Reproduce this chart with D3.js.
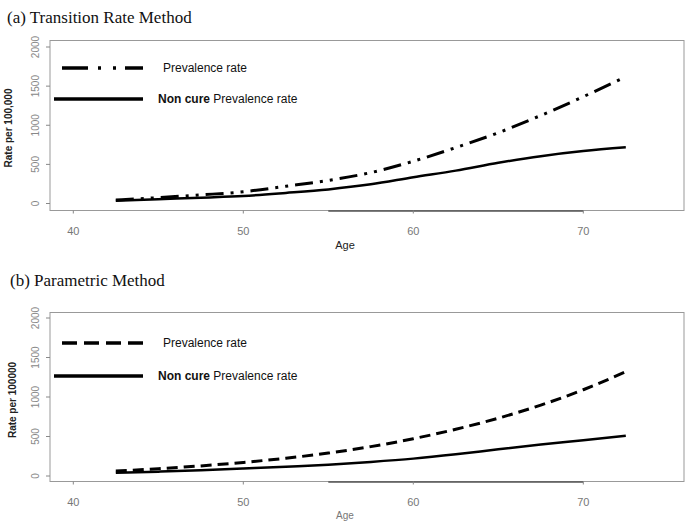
<!DOCTYPE html>
<html>
<head>
<meta charset="utf-8">
<script src="https://cdn.jsdelivr.net/npm/d3@7"></script>
<style>
  body { margin: 0; background: #fff; }
  svg { display: block; }
</style>
</head>
<body>
<svg id="chart" width="685" height="523"></svg>
<script>
const ages = [42.5, 45, 47.5, 50, 52.5, 55, 57.5, 60, 62.5, 65, 67.5, 70, 72.5];

// (a) transition rate method
const prevA    = [45, 75, 110, 150, 220, 295, 395, 540, 715, 905, 1125, 1365, 1620];
const nonCureA = [35, 55, 75, 96, 135, 180, 245, 335, 420, 520, 605, 670, 718];

// (b) parametric method
const prevB    = [63, 92, 128, 172, 225, 290, 372, 472, 592, 732, 897, 1092, 1320];
const nonCureB = [40, 55, 73, 95, 118, 143, 178, 220, 275, 338, 398, 452, 508];

const xTicks = [40, 50, 60, 70];
const yTicks = [0, 500, 1000, 1500, 2000];

const svg = d3.select('#chart');

function drawPanel(p) {
  const x = d3.scaleLinear().domain([40, 70]).range([73.3, 583.3]);
  const y = d3.scaleLinear().domain([0, 2000]).range([p.y0, p.y2000]);
  const g = svg.append('g');

  // title
  g.append('text')
    .attr('x', p.titleX).attr('y', p.titleY)
    .attr('font-family', '"Liberation Serif", "Times New Roman", serif')
    .attr('font-size', '17px')
    .attr('fill', '#111')
    .text(p.title);

  // plot box
  g.append('rect')
    .attr('x', 50).attr('y', p.top)
    .attr('width', 634).attr('height', p.bottom - p.top)
    .attr('fill', 'none').attr('stroke', '#999').attr('stroke-width', 1);

  // darker axis piece along the bottom
  g.append('line')
    .attr('x1', x(55)).attr('x2', x(70))
    .attr('y1', p.bottom + 0.5).attr('y2', p.bottom + 0.5)
    .attr('stroke', '#555').attr('stroke-width', 1.5);

  // x ticks
  const xa = g.selectAll('g.xt').data(xTicks).enter().append('g').attr('class', 'xt');
  xa.append('line')
    .attr('x1', d => x(d)).attr('x2', d => x(d))
    .attr('y1', p.bottom).attr('y2', p.bottom + 3)
    .attr('stroke', '#888');
  xa.append('text')
    .attr('x', d => x(d)).attr('y', p.bottom + 24)
    .attr('text-anchor', 'middle')
    .attr('font-family', '"Liberation Sans", Arial, sans-serif')
    .attr('font-size', '11px').attr('fill', '#777')
    .text(d => d);

  // y ticks
  const ya = g.selectAll('g.yt').data(yTicks).enter().append('g').attr('class', 'yt');
  ya.append('line')
    .attr('x1', 46).attr('x2', 50)
    .attr('y1', d => y(d)).attr('y2', d => y(d))
    .attr('stroke', '#888');
  ya.append('text')
    .attr('transform', d => `translate(39,${y(d)})rotate(-90)`)
    .attr('text-anchor', 'middle')
    .attr('font-family', '"Liberation Sans", Arial, sans-serif')
    .attr('font-size', '10px').attr('fill', '#888')
    .text(d => d);

  // axis titles
  g.append('text')
    .attr('x', 345).attr('y', p.ageY)
    .attr('text-anchor', 'middle')
    .attr('font-family', '"Liberation Sans", Arial, sans-serif')
    .attr('font-size', p.ageSize).attr('fill', p.ageColor)
    .text('Age');
  g.append('text')
    .attr('transform', `translate(${p.ylabX},${p.ylabY})rotate(-90)`)
    .attr('text-anchor', 'middle')
    .attr('font-family', '"Liberation Sans", Arial, sans-serif')
    .attr('font-size', '10px').attr('font-weight', 'bold').attr('fill', '#222')
    .text(p.ylab);

  // curves
  const line = d3.line().x(d => x(d[0])).y(d => y(d[1])).curve(d3.curveMonotoneX);
  g.append('path')
    .datum(d3.zip(ages, p.prev))
    .attr('d', line)
    .attr('fill', 'none').attr('stroke', '#000').attr('stroke-width', 3)
    .attr('stroke-dasharray', p.dashCurve);
  g.append('path')
    .datum(d3.zip(ages, p.nonCure))
    .attr('d', line)
    .attr('fill', 'none').attr('stroke', '#000').attr('stroke-width', 2.5);

  // legend
  g.append('line')
    .attr('x1', 62).attr('x2', 143)
    .attr('y1', p.leg1Y).attr('y2', p.leg1Y)
    .attr('stroke', '#000').attr('stroke-width', 3.5)
    .attr('stroke-dasharray', p.dashLegend);
  g.append('text')
    .attr('x', 163).attr('y', p.leg1Y + 4)
    .attr('font-family', '"Liberation Sans", Arial, sans-serif')
    .attr('font-size', '12px').attr('fill', '#111')
    .text('Prevalence rate');
  g.append('line')
    .attr('x1', 54).attr('x2', 143)
    .attr('y1', p.leg2Y).attr('y2', p.leg2Y)
    .attr('stroke', '#000').attr('stroke-width', 3.5);
  const t2 = g.append('text')
    .attr('x', 158).attr('y', p.leg2Y + 4)
    .attr('font-family', '"Liberation Sans", Arial, sans-serif')
    .attr('font-size', '12px').attr('fill', '#111');
  t2.append('tspan').attr('font-weight', 'bold').text('Non cure');
  t2.append('tspan').text(' Prevalence rate');
}

drawPanel({
  title: '(a) Transition Rate Method', titleX: 7, titleY: 23,
  top: 40.5, bottom: 210.5, y0: 203.5, y2000: 47,
  ageY: 249, ageSize: '11px', ageColor: '#222',
  ylab: 'Rate per 100,000', ylabX: 12, ylabY: 128,
  prev: prevA, nonCure: nonCureA,
  dashCurve: '18,7,3,7,3,7', dashLegend: '26,10,3,12,3,9',
  leg1Y: 68, leg2Y: 99
});

drawPanel({
  title: '(b) Parametric Method', titleX: 10, titleY: 286,
  top: 312.5, bottom: 481.5, y0: 476, y2000: 318,
  ageY: 519, ageSize: '10px', ageColor: '#777',
  ylab: 'Rate per 100000', ylabX: 16, ylabY: 400,
  prev: prevB, nonCure: nonCureB,
  dashCurve: '11,6', dashLegend: '15,7',
  leg1Y: 343, leg2Y: 376
});
</script>
</body>
</html>
